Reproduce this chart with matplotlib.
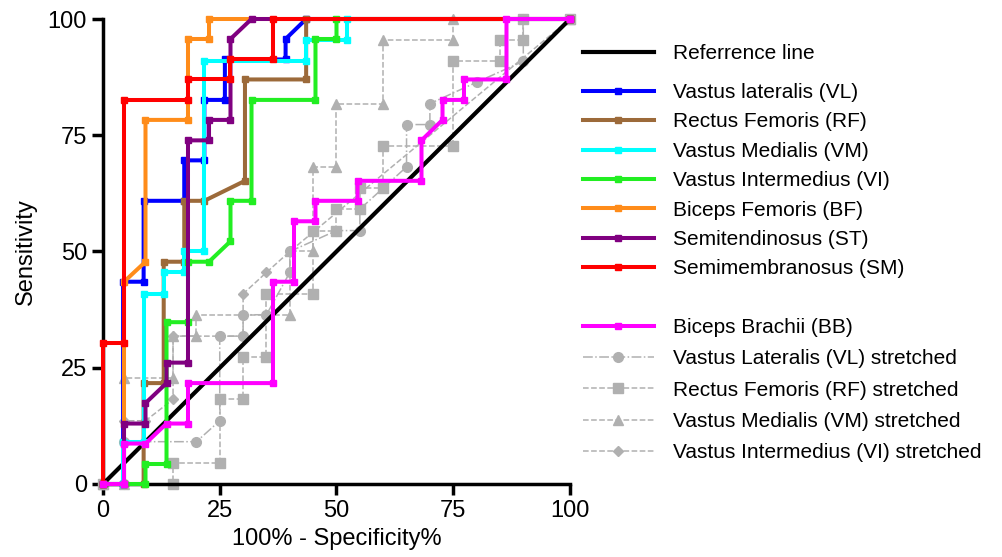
import matplotlib
matplotlib.use("Agg")
import matplotlib.pyplot as plt

plt.rcParams["font.family"] = ["Liberation Sans", "DejaVu Sans"]

# ROC curves: x = 100% - Specificity%, y = Sensitivity
ref_x = [0, 100]
ref_y = [0, 100]

vl_x = [0, 4.3, 4.3, 8.7, 8.7, 17.4, 17.4, 21.7, 21.7, 26.1, 26.1, 39.1, 39.1, 43.5, 100]
vl_y = [0, 0, 43.5, 43.5, 60.9, 60.9, 69.6, 69.6, 82.6, 82.6, 91.3, 91.3, 95.7, 100, 100]

rf_x = [0, 8.7, 8.7, 13.0, 13.0, 17.4, 17.4, 21.7, 30.4, 30.4, 43.5, 43.5, 100]
rf_y = [0, 0, 21.7, 21.7, 47.8, 47.8, 60.9, 60.9, 65.2, 87.0, 87.0, 100, 100]

vm_x = [0, 4.3, 4.3, 8.7, 8.7, 13.0, 13.0, 17.4, 17.4, 21.7, 21.7, 43.5, 43.5, 52.2, 52.2, 100]
vm_y = [0, 0, 9.1, 9.1, 40.9, 40.9, 45.5, 45.5, 50.0, 50.0, 90.9, 90.9, 95.5, 95.5, 100, 100]

vi_x = [0, 9.1, 9.1, 13.6, 13.6, 18.2, 18.2, 22.7, 27.3, 27.3, 31.8, 31.8, 45.5, 45.5, 50.0, 50.0, 100]
vi_y = [0, 0, 4.3, 4.3, 34.8, 34.8, 47.8, 47.8, 52.2, 60.9, 60.9, 82.6, 82.6, 95.7, 95.7, 100, 100]

bf_x = [0, 4.5, 4.5, 9.1, 9.1, 18.2, 18.2, 22.7, 22.7, 100]
bf_y = [0, 0, 43.5, 47.8, 78.3, 78.3, 95.7, 95.7, 100, 100]

st_x = [0, 4.5, 4.5, 9.1, 9.1, 13.6, 13.6, 18.2, 18.2, 22.7, 22.7, 27.3, 27.3, 31.8, 100]
st_y = [0, 0, 13.0, 13.0, 17.4, 21.7, 26.1, 26.1, 73.9, 73.9, 78.3, 78.3, 95.7, 100, 100]

sm_x = [0, 0, 4.5, 4.5, 18.2, 18.2, 27.3, 27.3, 36.4, 36.4, 100]
sm_y = [0, 30.4, 30.4, 82.6, 82.6, 87.0, 87.0, 91.3, 91.3, 100, 100]

bb_x = [0, 4.5, 4.5, 9.1, 13.6, 18.2, 18.2, 36.4, 36.4, 40.9, 40.9, 45.5, 45.5, 54.5, 54.5,
        68.2, 68.2, 72.7, 72.7, 77.3, 77.3, 86.4, 86.4, 100]
bb_y = [0, 0, 8.7, 8.7, 13.0, 13.0, 21.7, 21.7, 43.5, 43.5, 56.5, 56.5, 60.9, 60.9, 65.2,
        65.2, 73.9, 78.3, 82.6, 82.6, 87.0, 87.0, 100, 100]

vl_s_x = [0, 4.5, 4.5, 20, 25, 25, 30, 30, 35, 40, 40, 50, 55, 55, 65, 65, 70, 70, 80, 90, 90, 100]
vl_s_y = [0, 0, 9.1, 9.1, 13.6, 31.8, 31.8, 36.4, 36.4, 45.5, 50, 54.5, 54.5, 59.1, 68.2, 77.3,
          77.3, 81.8, 86.4, 90.9, 100, 100]

rf_s_x = [0, 15, 15, 25, 25, 30, 30, 35, 35, 45, 45, 50, 50, 55, 55, 60, 60, 75, 75, 85, 85, 90, 90, 100]
rf_s_y = [0, 0, 4.5, 4.5, 18.2, 18.2, 27.3, 27.3, 40.9, 40.9, 54.5, 54.5, 59.1, 59.1, 63.6, 63.6,
          72.7, 72.7, 90.9, 90.9, 95.5, 95.5, 100, 100]

vm_s_x = [0, 4.5, 4.5, 15, 15, 20, 20, 40, 40, 45, 45, 50, 50, 60, 60, 75, 75, 100]
vm_s_y = [0, 0, 22.7, 22.7, 31.8, 31.8, 36.4, 36.4, 50, 50, 68.2, 68.2, 81.8, 81.8, 95.5, 95.5, 100, 100]

vi_s_x = [0, 4.5, 4.5, 9.1, 15, 15, 30, 30, 35, 40, 100]
vi_s_y = [0, 0, 13.6, 13.6, 18.2, 31.8, 31.8, 40.9, 45.5, 50, 100]

main_series = [
    ("Vastus lateralis (VL)", vl_x, vl_y, "#0000ff"),
    ("Rectus Femoris (RF)", rf_x, rf_y, "#9c6a3a"),
    ("Vastus Medialis (VM)", vm_x, vm_y, "#00ffff"),
    ("Vastus Intermedius (VI)", vi_x, vi_y, "#22ee22"),
    ("Biceps Femoris (BF)", bf_x, bf_y, "#ff8c1a"),
    ("Semitendinosus (ST)", st_x, st_y, "#800080"),
    ("Semimembranosus (SM)", sm_x, sm_y, "#ff0000"),
]
stretched = [
    ("Vastus Lateralis (VL) stretched", vl_s_x, vl_s_y, "o", "-."),
    ("Rectus Femoris (RF) stretched", rf_s_x, rf_s_y, "s", "--"),
    ("Vastus Medialis (VM) stretched", vm_s_x, vm_s_y, "^", "--"),
    ("Vastus Intermedius (VI) stretched", vi_s_x, vi_s_y, "D", "--"),
]

fig = plt.figure(figsize=(10.03, 5.57), dpi=100)
ax = fig.add_axes([103 / 1003, 73 / 557, 467 / 1003, 465 / 557])

gray = "#b0b0b0"
gray_handles = []
for label, x, y, mk, ls in stretched:
    ms = 5 if mk == "D" else 7
    h, = ax.plot(x, y, color=gray, lw=1.1, ls=ls, marker=mk, ms=ms,
                 label=label, clip_on=False, zorder=2)
    gray_handles.append(h)

ref, = ax.plot(ref_x, ref_y, color="black", lw=3, label="Referrence line",
               clip_on=False, zorder=3)

main_handles = []
for label, x, y, c in main_series:
    h, = ax.plot(x, y, color=c, lw=2.9, marker="s", ms=3.8, label=label,
                 clip_on=False, zorder=4)
    main_handles.append(h)

bb, = ax.plot(bb_x, bb_y, color="#ff00ff", lw=2.9, marker="s", ms=3.8,
              label="Biceps Brachii (BB)", clip_on=False, zorder=4)

ax.set_xlim(0, 100)
ax.set_ylim(0, 100)
ax.set_xticks([0, 25, 50, 75, 100])
ax.set_yticks([0, 25, 50, 75, 100])
for s in ["top", "right"]:
    ax.spines[s].set_visible(False)
for s in ["left", "bottom"]:
    ax.spines[s].set_linewidth(2.5)
ax.tick_params(width=2.5, length=8, labelsize=17, direction="out")
ax.set_xlabel("100% - Specificity%", fontsize=17, labelpad=4)
ax.set_ylabel("Sensitivity", fontsize=17, labelpad=8)

leg_kw = dict(frameon=False, fontsize=15, handlelength=3.4, handletextpad=0.9,
              borderpad=0, borderaxespad=0, loc="upper left", numpoints=1)
leg1 = fig.legend(handles=[ref], bbox_transform=fig.transFigure,
                  bbox_to_anchor=(583 / 1003, 1 - 44 / 557), **leg_kw)
leg2 = fig.legend(handles=main_handles, labelspacing=0.5, bbox_transform=fig.transFigure,
                  bbox_to_anchor=(583 / 1003, 1 - 83 / 557), **leg_kw)
leg3 = fig.legend(handles=[bb] + gray_handles, labelspacing=0.59, bbox_transform=fig.transFigure,
                  bbox_to_anchor=(583 / 1003, 1 - 318 / 557), **leg_kw)

fig.savefig("out.png", dpi=100)
